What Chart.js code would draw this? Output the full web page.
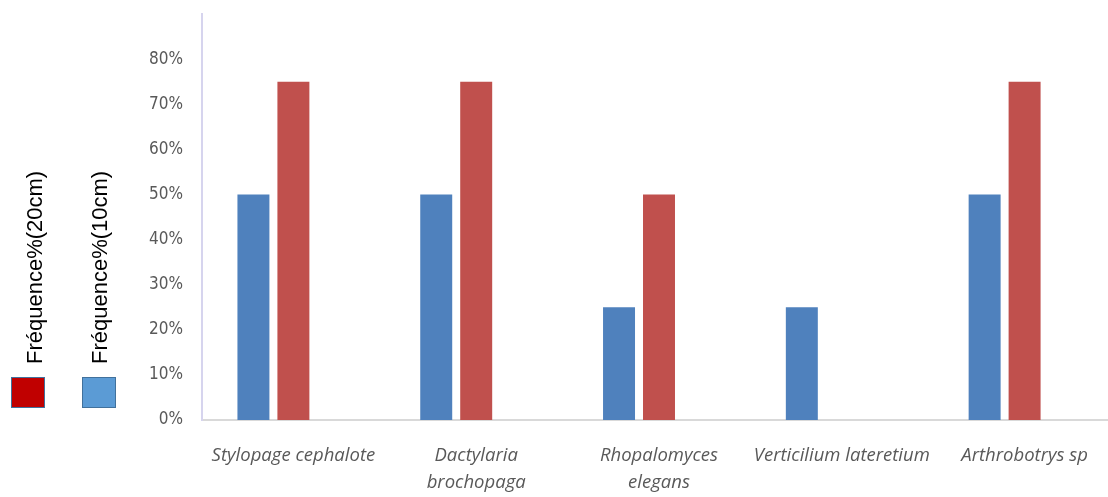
<!DOCTYPE html>
<html>
<head>
<meta charset="utf-8">
<script src="https://cdn.jsdelivr.net/npm/chart.js@4"></script>
<style>
  html, body { margin: 0; padding: 0; background: #fff; overflow: hidden; width: 1108px; height: 497px; }
  #wrap { position: absolute; left: 0; top: -15px; width: 1120px; height: 512px; }
  .leg-text { position: absolute; font-family: 'Liberation Sans', Arial, sans-serif; font-size: 22px; color: #000;
    white-space: nowrap; transform-origin: 0 0; transform: rotate(-90deg); }
  .leg-box { position: absolute; width: 32px; height: 29px; border: 1px solid #41719c; }
</style>
</head>
<body>
<div id="wrap"><canvas id="freqChart" width="1120" height="512"></canvas></div>
<div class="leg-text" style="left:22px; top:364px;">Fréquence%(20cm)</div>
<div class="leg-text" style="left:87px; top:364px;">Fréquence%(10cm)</div>
<div class="leg-box" style="left:11px; top:377px; background:#c00000;"></div>
<div class="leg-box" style="left:82px; top:377px; background:#5b9bd5;"></div>
<script>
// species along the x axis (multi-line where the original wraps)
const speciesLabels = [
  'Stylopage cephalote',
  ['Dactylaria', 'brochopaga'],
  ['Rhopalomyces', 'elegans'],
  'Verticilium lateretium',
  'Arthrobotrys sp'
];
const freq10cm = [0.50, 0.50, 0.25, 0.25, 0.50];
const freq20cm = [0.75, 0.75, 0.50, 0, 0.75];
const emptySeries = [null, null, null, null, null]; // excel chart had a third, empty series
const yTicksShown = [0, 0.1, 0.2, 0.3, 0.4, 0.5, 0.6, 0.7, 0.8];

const ctx = document.getElementById('freqChart').getContext('2d');

new Chart(ctx, {
  type: 'bar',
  data: {
    labels: speciesLabels,
    datasets: [
      { label: 'Fréquence%(10cm)', data: freq10cm, backgroundColor: '#4f81bd' },
      { label: 'Fréquence%(20cm)', data: freq20cm, backgroundColor: '#c0504d' },
      { label: '', data: emptySeries, backgroundColor: 'rgba(0,0,0,0)' }
    ]
  },
  options: {
    responsive: false,
    animation: false,
    layout: { padding: { top: 0, right: 4, left: 0, bottom: 0 } },
    datasets: {
      bar: { categoryPercentage: 0.656, barPercentage: 0.8, borderWidth: 0 }
    },
    plugins: {
      legend: { display: false },
      tooltip: { enabled: false }
    },
    scales: {
      x: {
        grid: { display: false, drawTicks: false },
        border: { display: true, color: '#d9d9d9', width: 2 },
        ticks: {
          padding: 22,
          maxRotation: 0,
          autoSkip: false,
          color: '#595959',
          font: { family: "'Open Sans', sans-serif", size: 18.5, style: 'italic', lineHeight: 1.45 }
        },
        afterFit: function(scale) { scale.height = 77; }
      },
      y: {
        min: 0,
        max: 0.9,
        grid: { display: false, drawTicks: false },
        border: { display: true, color: '#d6d4ee', width: 2 },
        ticks: {
          stepSize: 0.1,
          padding: 19,
          color: '#595959',
          font: { family: "'Liberation Sans Narrow', 'DejaVu Sans Condensed', sans-serif", size: 17 },
          callback: function(value) {
            const v = Math.round(value * 100) / 100;
            return yTicksShown.includes(v) ? Math.round(v * 100) + '%' : null;
          }
        },
        afterFit: function(scale) { scale.width = 202; }
      }
    }
  }
});
</script>
</body>
</html>
